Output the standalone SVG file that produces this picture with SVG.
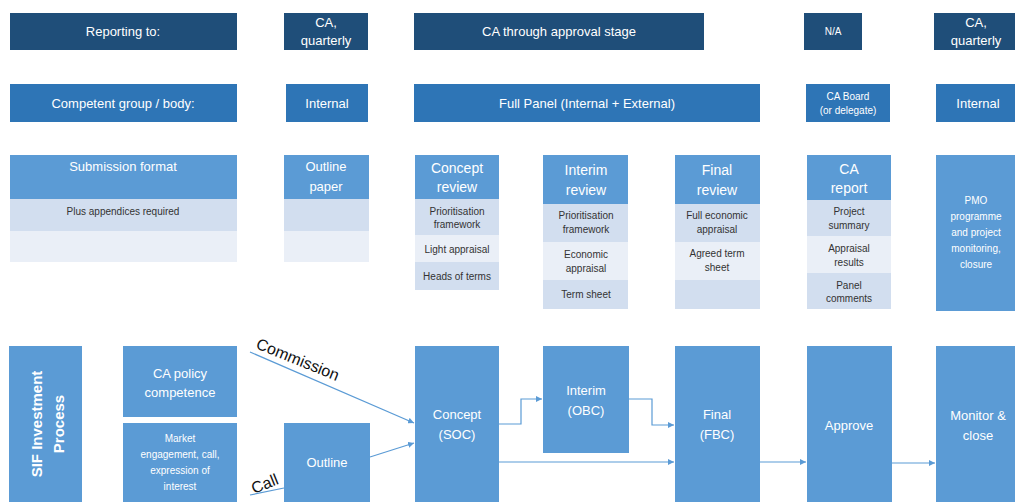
<svg xmlns="http://www.w3.org/2000/svg" width="1015" height="502" viewBox="0 0 1015 502">
<defs>
<marker id="ah" viewBox="0 0 10 10" refX="10" refY="5" markerWidth="6" markerHeight="6" orient="auto" markerUnits="userSpaceOnUse"><path d="M0,0 L10,5 L0,10 z" fill="#5B9BD5"/></marker>
<style>
.n{fill:#1F4E79}
.m{fill:#2E75B6}
.l{fill:#5B9BD5}
.r1{fill:#D2DEEF}
.r2{fill:#EAEFF7}
text{font-family:"Liberation Sans","Open Sans",sans-serif;text-anchor:middle}
.w{fill:#fff;font-size:13px}
.ws{fill:#fff;font-size:10px}
.h{fill:#fff;font-size:14px}
.d{fill:#333;font-size:10px}
.c{fill:none;stroke:#5B9BD5;stroke-width:1.2}
.lab{fill:#111;font-size:16px;text-anchor:start}
</style>
</defs>
<rect width="1015" height="502" fill="#fff"/>

<g id="row-reporting">
<rect class="n" x="10" y="13" width="227" height="37"/>
<text class="w" x="123" y="36">Reporting to:</text>
<rect class="n" x="284" y="13" width="84" height="37"/>
<text class="w" x="326" y="27">CA,</text><text class="w" x="326" y="45">quarterly</text>
<rect class="n" x="414" y="13" width="290" height="37"/>
<text class="w" x="559" y="36">CA through approval stage</text>
<rect class="n" x="804" y="13" width="58" height="37"/>
<text class="ws" x="833" y="35">N/A</text>
<rect class="n" x="934" y="13" width="82" height="37"/>
<text class="w" x="976" y="27">CA,</text><text class="w" x="976" y="45">quarterly</text>
</g>

<g id="row-competent">
<rect class="m" x="10" y="84" width="227" height="38"/>
<text class="w" x="123" y="108">Competent group / body:</text>
<rect class="m" x="286" y="84" width="82" height="38"/>
<text class="w" x="327" y="108">Internal</text>
<rect class="m" x="414" y="84" width="346" height="38"/>
<text class="w" x="587" y="108">Full Panel (Internal + External)</text>
<rect class="m" x="806" y="84" width="84" height="38"/>
<text class="ws" x="848" y="100">CA Board</text><text class="ws" x="848" y="114">(or delegate)</text>
<rect class="m" x="936" y="84" width="80" height="38"/>
<text class="w" x="978" y="108">Internal</text>
</g>

<g id="submission-format">
<rect class="l" x="10" y="155" width="227" height="44"/>
<rect class="r1" x="10" y="199" width="227" height="32"/>
<rect class="r2" x="10" y="231" width="227" height="31"/>
<text class="w" x="123" y="171">Submission format</text>
<text class="d" x="123" y="215">Plus appendices required</text>
</g>

<g id="outline-paper">
<rect class="l" x="284" y="155" width="85" height="44"/>
<rect class="r1" x="284" y="199" width="85" height="32"/>
<rect class="r2" x="284" y="231" width="85" height="31"/>
<text class="w" x="326" y="171">Outline</text><text class="w" x="326" y="191">paper</text>
</g>

<g id="concept-review">
<rect class="l" x="415" y="155" width="84" height="44"/>
<rect class="r1" x="415" y="199" width="84" height="36"/>
<rect class="r2" x="415" y="235" width="84" height="27"/>
<rect class="r1" x="415" y="262" width="84" height="28"/>
<text class="h" x="457" y="173">Concept</text><text class="h" x="457" y="192">review</text>
<text class="d" x="457" y="215">Prioritisation</text><text class="d" x="457" y="228">framework</text>
<text class="d" x="457" y="253">Light appraisal</text>
<text class="d" x="457" y="280">Heads of terms</text>
</g>

<g id="interim-review">
<rect class="l" x="543" y="155" width="85" height="49"/>
<rect class="r1" x="543" y="204" width="85" height="38"/>
<rect class="r2" x="543" y="242" width="85" height="38"/>
<rect class="r1" x="543" y="280" width="85" height="29"/>
<text class="h" x="586" y="175">Interim</text><text class="h" x="586" y="195">review</text>
<text class="d" x="586" y="219">Prioritisation</text><text class="d" x="586" y="233">framework</text>
<text class="d" x="586" y="258">Economic</text><text class="d" x="586" y="272">appraisal</text>
<text class="d" x="586" y="298">Term sheet</text>
</g>

<g id="final-review">
<rect class="l" x="675" y="155" width="85" height="49"/>
<rect class="r1" x="675" y="204" width="85" height="38"/>
<rect class="r2" x="675" y="242" width="85" height="38"/>
<rect class="r1" x="675" y="280" width="85" height="29"/>
<text class="h" x="717" y="175">Final</text><text class="h" x="717" y="195">review</text>
<text class="d" x="717" y="219">Full economic</text><text class="d" x="717" y="233">appraisal</text>
<text class="d" x="717" y="257">Agreed term</text><text class="d" x="717" y="271">sheet</text>
</g>

<g id="ca-report">
<rect class="l" x="807" y="155" width="84" height="45"/>
<rect class="r1" x="807" y="200" width="84" height="36"/>
<rect class="r2" x="807" y="236" width="84" height="37"/>
<rect class="r1" x="807" y="273" width="84" height="36"/>
<text class="h" x="849" y="174">CA</text><text class="h" x="849" y="193">report</text>
<text class="d" x="849" y="215">Project</text><text class="d" x="849" y="229">summary</text>
<text class="d" x="849" y="252">Appraisal</text><text class="d" x="849" y="266">results</text>
<text class="d" x="849" y="289">Panel</text><text class="d" x="849" y="302">comments</text>
</g>

<g id="pmo">
<rect class="l" x="936" y="155" width="80" height="156"/>
<text class="ws" x="976" y="204" font-size="11">PMO</text>
<text class="ws" x="976" y="220">programme</text>
<text class="ws" x="976" y="236">and project</text>
<text class="ws" x="976" y="252">monitoring,</text>
<text class="ws" x="976" y="268">closure</text>
</g>

<g id="sif-investment-process">
<rect class="l" x="9" y="346" width="73" height="156"/>
<text fill="#fff" font-size="15" font-weight="bold" transform="translate(42,424) rotate(-90)">SIF Investment</text>
<text fill="#fff" font-size="15" font-weight="bold" transform="translate(64,424) rotate(-90)">Process</text>
</g>

<g id="ca-policy">
<rect class="l" x="123" y="346" width="114" height="71"/>
<text class="w" x="180" y="378">CA policy</text><text class="w" x="180" y="397">competence</text>
</g>

<g id="market-engagement">
<rect class="l" x="123" y="423" width="114" height="79"/>
<text class="ws" x="180" y="442" font-size="11">Market</text>
<text class="ws" x="180" y="458" font-size="11">engagement, call,</text>
<text class="ws" x="180" y="474" font-size="11">expression of</text>
<text class="ws" x="180" y="490" font-size="11">interest</text>
</g>

<g id="outline">
<rect class="l" x="284" y="423" width="86" height="79"/>
<text class="w" x="327" y="467">Outline</text>
</g>

<g id="concept">
<rect class="l" x="415" y="346" width="84" height="156"/>
<text class="w" x="457" y="419">Concept</text><text class="w" x="457" y="439">(SOC)</text>
</g>

<g id="interim">
<rect class="l" x="543" y="346" width="86" height="107"/>
<text class="w" x="586" y="395">Interim</text><text class="w" x="586" y="415">(OBC)</text>
</g>

<g id="final">
<rect class="l" x="675" y="346" width="85" height="156"/>
<text class="w" x="717" y="419">Final</text><text class="w" x="717" y="439">(FBC)</text>
</g>

<g id="approve">
<rect class="l" x="807" y="346" width="85" height="156"/>
<text class="w" x="849" y="430">Approve</text>
</g>

<g id="monitor">
<rect class="l" x="936" y="346" width="80" height="156"/>
<text class="w" x="978" y="420">Monitor &amp;</text><text class="w" x="978" y="440">close</text>
</g>

<g id="connectors">
<path class="c" d="M250,352 L414,423" marker-end="url(#ah)"/>
<path class="c" d="M250,495 L284,488"/>
<path class="c" d="M370,457 L414,443" marker-end="url(#ah)"/>
<path class="c" d="M499,424 H521 V399 H542" marker-end="url(#ah)"/>
<path class="c" d="M629,399 H652 V425 H674" marker-end="url(#ah)"/>
<path class="c" d="M499,462 H674" marker-end="url(#ah)"/>
<path class="c" d="M760,462 H806" marker-end="url(#ah)"/>
<path class="c" d="M892,463 H935" marker-end="url(#ah)"/>
<text class="lab" transform="translate(255,348) rotate(22)">Commission</text>
<text class="lab" transform="translate(254,494) rotate(-22)">Call</text>
</g>
</svg>
